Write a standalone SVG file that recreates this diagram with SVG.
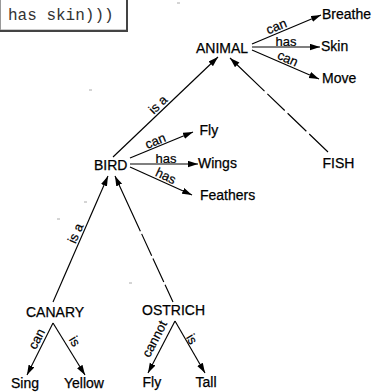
<svg xmlns="http://www.w3.org/2000/svg" width="372" height="392" viewBox="0 0 372 392">
  <defs>
    <marker id="ah" markerWidth="11" markerHeight="7" refX="10" refY="3.2" orient="auto" markerUnits="userSpaceOnUse">
      <path d="M0,0 L10,3.2 L0,6.4 z" fill="#000"/>
    </marker>
    <style>
      .node { font-family: "Liberation Sans", Arial, sans-serif; font-size: 14px; fill: #000; stroke: #000; stroke-width: 0.25; }
      .lbl { font-family: "Liberation Sans", Arial, sans-serif; font-size: 13px; fill: #000; stroke: #000; stroke-width: 0.2; text-anchor: middle; }
      .edge { stroke: #000; stroke-width: 1.15; fill: none; marker-end: url(#ah); }
      .fish-link { stroke-dasharray: 26 4 26 4 24 4 80; }
      .ostrich-link { stroke-dasharray: 19 3 26 3 24 3 90; }
      .code { font-family: "Liberation Mono", "Courier New", monospace; font-size: 16px; fill: #333; }
      .speck { stroke: #aaa; stroke-width: 1; }
    </style>
  </defs>
  <rect width="372" height="392" fill="#fff"/>

  <!-- code snippet box, clipped at top-left -->
  <g id="code-box">
    <rect x="0.5" y="-5" width="126" height="35" fill="#fff" stroke="#999" stroke-width="1"/>
    <path d="M127,-5 V31 H0" fill="none" stroke="#444" stroke-width="2"/>
    <text class="code" x="8" y="20">has skin)))</text>
  </g>

  <!-- connectors -->
  <g id="connectors">
    <path class="edge" d="M252,44 L321,15"/>
    <path class="edge" d="M252,47 L320,47"/>
    <path class="edge" d="M252,50 L319,79"/>
    <path class="edge" d="M113,157 L218,57"/>
    <path class="edge fish-link" d="M328,152 L230,58"/>
    <path class="edge" d="M130,158 L193,132"/>
    <path class="edge" d="M130,164 L198,164"/>
    <path class="edge" d="M130,167 L192,195"/>
    <path class="edge" d="M53,302 L108,176"/>
    <path class="edge ostrich-link" d="M173,302 L115,176"/>
    <path class="edge" d="M53,323 L27,375"/>
    <path class="edge" d="M53,323 L85,375"/>
    <path class="edge" d="M175,321 L148,373"/>
    <path class="edge" d="M175,321 L205,373"/>

    <text class="lbl" transform="translate(278,30.5) rotate(-22)">can</text>
    <text class="lbl" x="286" y="45.5">has</text>
    <text class="lbl" transform="translate(286,62.5) rotate(24)">can</text>
    <text class="lbl" transform="translate(161,107.7) rotate(-43.6)">is a</text>
    <text class="lbl" transform="translate(157,145) rotate(-22)">can</text>
    <text class="lbl" x="166" y="162.5">has</text>
    <text class="lbl" transform="translate(164,180) rotate(25)">has</text>
    <text class="lbl" transform="translate(79.5,235.1) rotate(-66.4)">is a</text>
    <text class="lbl" transform="translate(40.5,341) rotate(-63)">can</text>
    <text class="lbl" transform="translate(71,343.5) rotate(59)">is</text>
    <text class="lbl" transform="translate(158.5,341) rotate(-62.8)">cannot</text>
    <text class="lbl" transform="translate(188,341.4) rotate(60)">is</text>
  </g>

  <!-- nodes -->
  <g id="animal"><text class="node" x="196" y="53">ANIMAL</text></g>
  <g id="breathe"><text class="node" x="322" y="18.5">Breathe</text></g>
  <g id="skin"><text class="node" x="321" y="50.5">Skin</text></g>
  <g id="move"><text class="node" x="322" y="83">Move</text></g>
  <g id="bird"><text class="node" x="94" y="169.5">BIRD</text></g>
  <g id="fly"><text class="node" x="199.5" y="135">Fly</text></g>
  <g id="wings"><text class="node" x="198" y="168">Wings</text></g>
  <g id="feathers"><text class="node" x="200" y="200">Feathers</text></g>
  <g id="fish"><text class="node" x="322.5" y="167.5">FISH</text></g>
  <g id="canary"><text class="node" x="26" y="316.5">CANARY</text></g>
  <g id="ostrich"><text class="node" x="142" y="314.5">OSTRICH</text></g>
  <g id="sing"><text class="node" x="11" y="388">Sing</text></g>
  <g id="yellow"><text class="node" x="64" y="388">Yellow</text></g>
  <g id="ostrich-fly"><text class="node" x="142.5" y="387">Fly</text></g>
  <g id="tall"><text class="node" x="195.5" y="387">Tall</text></g>

  <!-- stray print specks -->
  <g id="specks">
    <line class="speck" x1="177" y1="3" x2="180" y2="3"/>
    <line class="speck" x1="89" y1="90" x2="92" y2="90"/>
    <line class="speck" x1="84" y1="202" x2="87" y2="202"/>
    <line class="speck" x1="57" y1="219" x2="60" y2="219"/>
    <line class="speck" x1="129" y1="283" x2="132" y2="283"/>
  </g>
</svg>
